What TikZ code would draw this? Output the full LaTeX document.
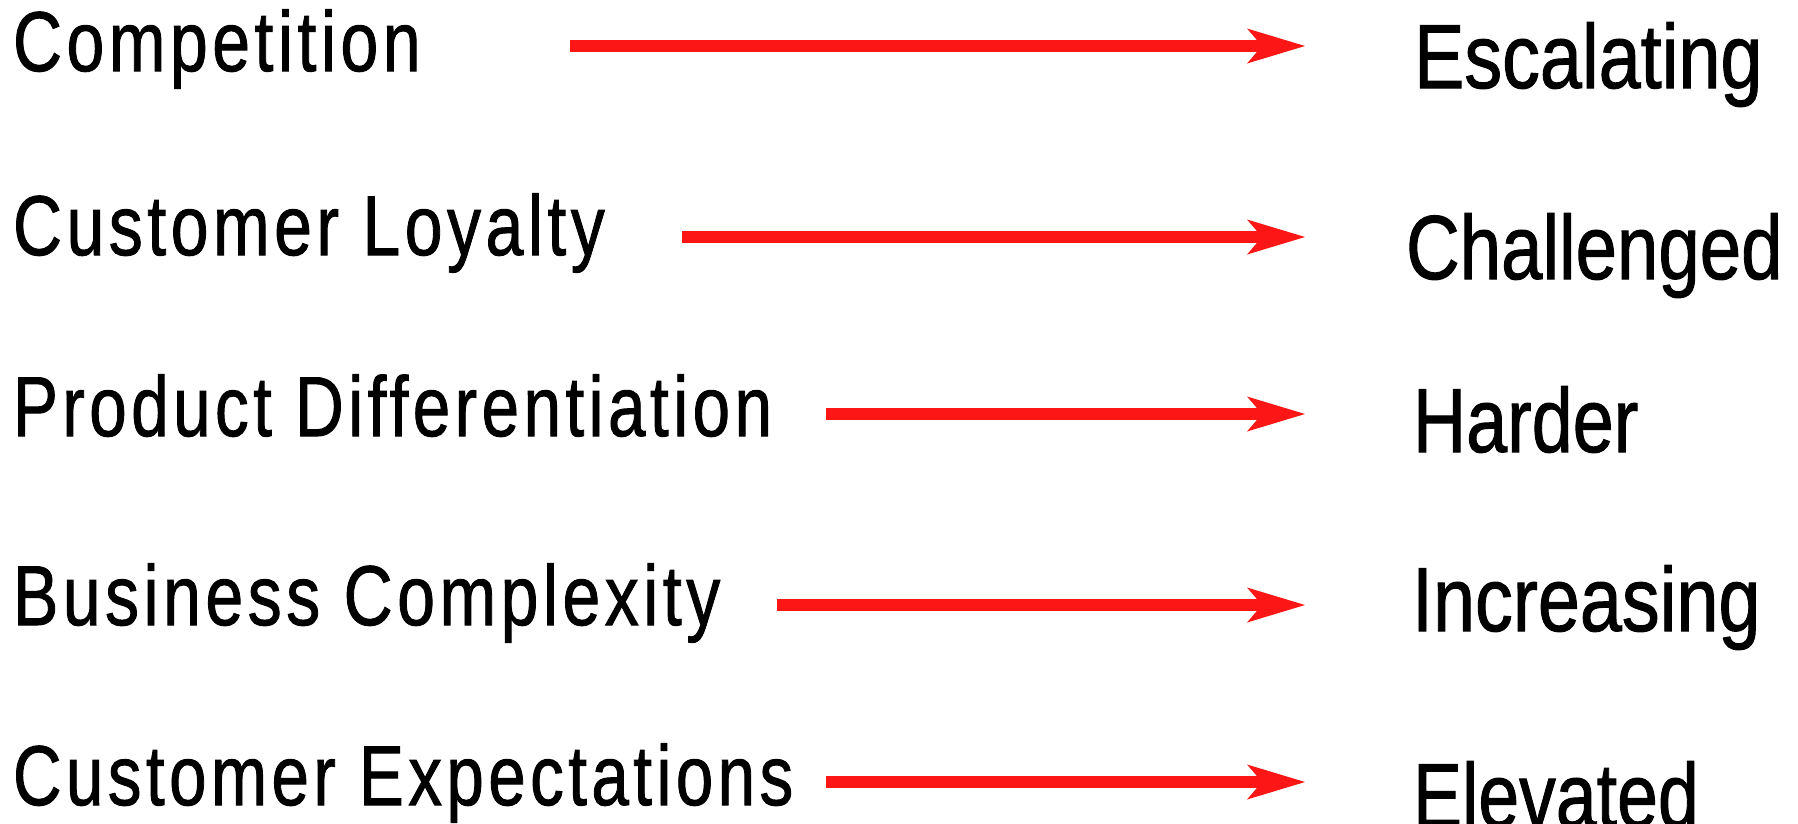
\documentclass[tikz,border=0pt]{standalone}
\usepackage{fontspec}
\usetikzlibrary{arrows.meta}
\setmainfont{Liberation Sans}
\newfontfamily\causefont[LetterSpace=6.6, FakeBold=1.2]{Liberation Sans}
\newfontfamily\effectfont[FakeBold=1.2]{Liberation Sans}
\definecolor{arrowred}{RGB}{252,22,22}
% condensed label text; the optional argument trims the width a little
\newcommand{\causetext}[2][0.80]{\scalebox{#1}[1]{\causefont\fontsize{85}{100}\selectfont #2}}
\newcommand{\effecttext}[2][0.83]{\scalebox{#1}[1]{\effectfont\fontsize{91}{104}\selectfont #2}}
\tikzset{
  cause/.style={anchor=base west, inner sep=0pt, outer sep=0pt},
  effect/.style={anchor=base west, inner sep=0pt, outer sep=0pt},
  trend/.style={draw=arrowred, line width=12pt,
    -{Stealth[length=58pt, width=35pt, inset=15pt, line width=0pt]}}
}
\begin{document}
\begin{tikzpicture}[x=1pt, y=-1pt]
  \useasboundingbox (0,0) rectangle (1798,823);

  % causes on the left
  \node[cause] (c1) at (13,71)  {\causetext{Competition}};
  \node[cause] (c2) at (13,255) {\causetext{Customer Loyalty}};
  \node[cause] (c3) at (13,436) {\causetext[0.793]{Product Differentiation}};
  \node[cause] (c4) at (13,625) {\causetext{Business Complexity}};
  \node[cause] (c5) at (13,805) {\causetext[0.792]{Customer Expectations}};

  % effects on the right
  \node[effect] (e1) at (1414,88)  {\effecttext{Escalating}};
  \node[effect] (e2) at (1406,279) {\effecttext[0.818]{Challenged}};
  \node[effect] (e3) at (1413,452) {\effecttext[0.81]{Harder}};
  \node[effect] (e4) at (1412,631) {\effecttext{Increasing}};
  \node[effect] (e5) at (1413,827) {\effecttext[0.807]{Elevated}};

  % arrow ends
  \coordinate (s1) at (570,46);  \coordinate (t1) at (1305,46);
  \coordinate (s2) at (682,237); \coordinate (t2) at (1305,237);
  \coordinate (s3) at (826,414); \coordinate (t3) at (1305,414);
  \coordinate (s4) at (777,605); \coordinate (t4) at (1305,605);
  \coordinate (s5) at (826,782); \coordinate (t5) at (1305,782);

  \draw[trend] (s1) -- (t1);
  \draw[trend] (s2) -- (t2);
  \draw[trend] (s3) -- (t3);
  \draw[trend] (s4) -- (t4);
  \draw[trend] (s5) -- (t5);
\end{tikzpicture}
\end{document}
